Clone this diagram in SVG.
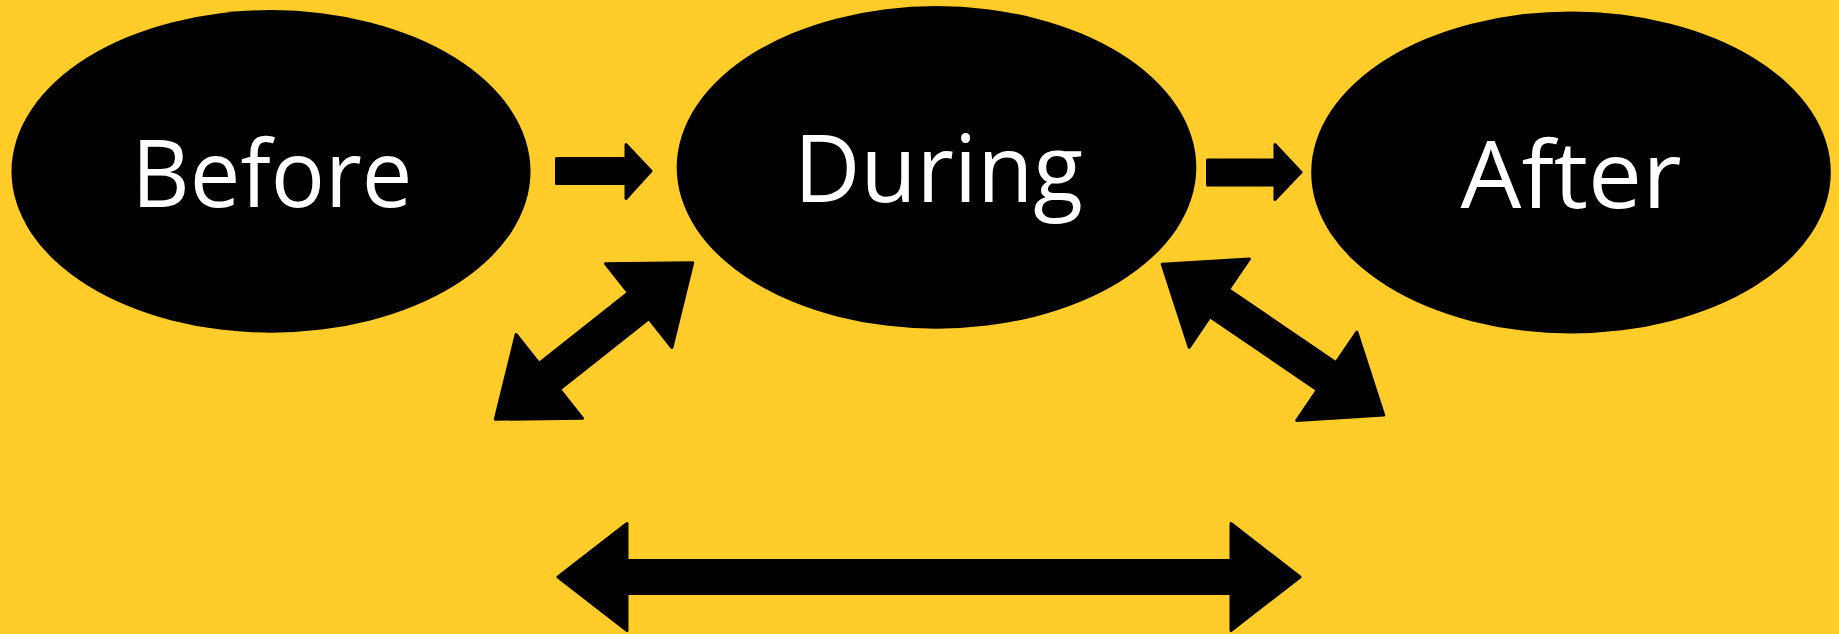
<svg xmlns="http://www.w3.org/2000/svg" width="1839" height="634" viewBox="0 0 1839 634">
<style>
.bg{fill:#FFCC29}
.node{fill:#000}
.lbl{font-family:"Open Sans","Noto Sans","Liberation Sans",sans-serif;font-size:94px;fill:#fff;text-anchor:middle}
.arr{fill:#000;stroke:#000;stroke-width:3;stroke-linejoin:round}
</style>
<rect class="bg" x="0" y="0" width="1839" height="634"/>
<g id="before">
<ellipse class="node" cx="271" cy="171.4" rx="259.5" ry="161.3"/>
<text class="lbl" x="272" y="206.7" textLength="281" lengthAdjust="spacingAndGlyphs">Before</text>
</g>
<g id="during">
<ellipse class="node" cx="936.5" cy="167.4" rx="259.8" ry="161.3"/>
<text class="lbl" x="938.5" y="202" textLength="289" lengthAdjust="spacingAndGlyphs">During</text>
</g>
<g id="after">
<ellipse class="node" cx="1571" cy="172.4" rx="259.8" ry="161"/>
<text class="lbl" x="1571" y="208" textLength="221" lengthAdjust="spacingAndGlyphs">After</text>
</g>
<g id="connectors">
<polygon class="arr" points="556.5,158.5 626,158.5 626,144.5 651,171 626,198.5 626,183.5 556.5,183.5"/>
<polygon class="arr" points="1207.5,160 1275,160 1275,144.5 1301,172.3 1275,199.5 1275,185 1207.5,185"/>
<g transform="translate(594,341) rotate(-38.4)">
<path class="arr" d="M-126,0 L-57,-53.5 L-57,-16.5 L57,-16.5 L57,-53.5 L126,0 L57,53.5 L57,16.5 L-57,16.5 L-57,53.5 Z"/>
</g>
<g transform="translate(1273,339.7) rotate(34.25)">
<path class="arr" d="M-134,0 L-65,-53.5 L-65,-16.5 L65,-16.5 L65,-53.5 L134,0 L65,53.5 L65,16.5 L-65,16.5 L-65,53.5 Z"/>
</g>
<g transform="translate(929,577)">
<path class="arr" d="M-371,0 L-302,-53.5 L-302,-16.5 L302,-16.5 L302,-53.5 L371,0 L302,53.5 L302,16.5 L-302,16.5 L-302,53.5 Z"/>
</g>
</g>
</svg>
